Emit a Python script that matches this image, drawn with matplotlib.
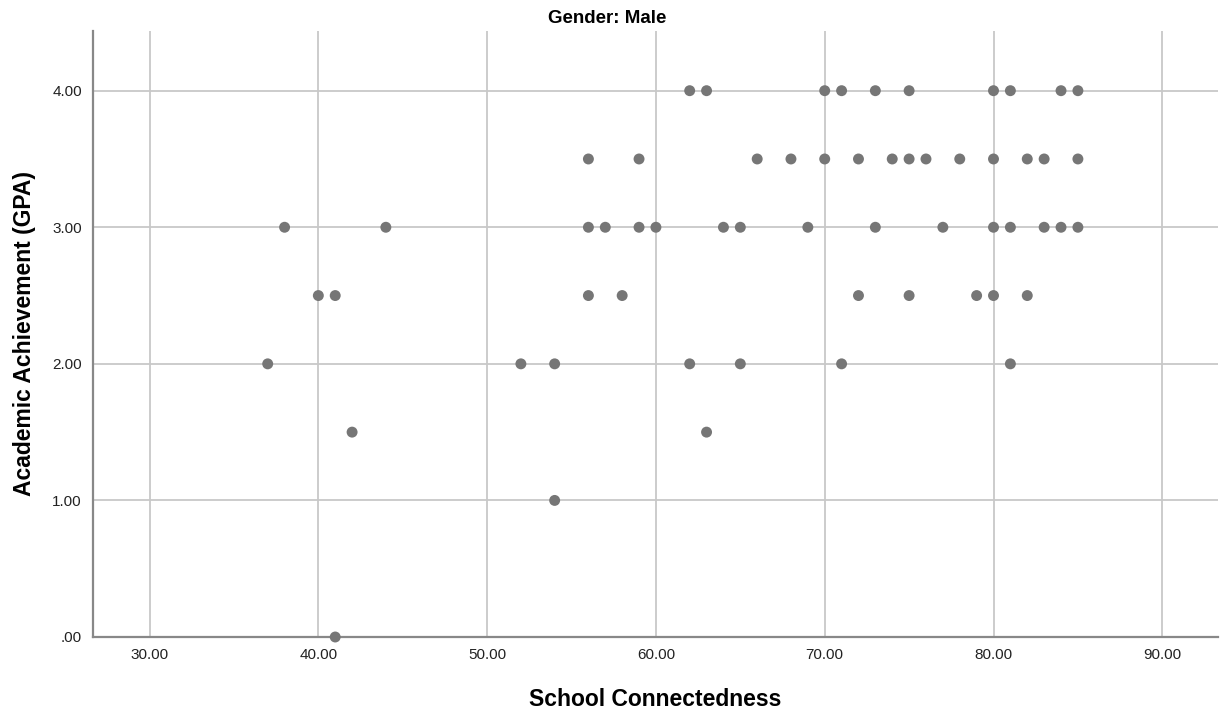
import matplotlib.pyplot as plt
from matplotlib.ticker import FuncFormatter

plt.rcParams['font.family'] = ['Liberation Sans', 'DejaVu Sans']

# school connectedness (x) and GPA (y) for each respondent, grouped by GPA row
gpa_400 = [62, 63, 70, 71, 73, 75, 80, 81, 84, 85]
gpa_350 = [56, 59, 66, 68, 70, 72, 74, 75, 76, 78, 80, 82, 83, 85]
gpa_300 = [38, 44, 56, 57, 59, 60, 64, 65, 69, 73, 77, 80, 81, 83, 84, 85]
gpa_250 = [40, 41, 56, 58, 72, 75, 79, 80, 82]
gpa_200 = [37, 52, 54, 62, 65, 71, 81]
gpa_150 = [42, 63]
gpa_100 = [54]
gpa_000 = [41]

rows = [(4.0, gpa_400), (3.5, gpa_350), (3.0, gpa_300), (2.5, gpa_250),
        (2.0, gpa_200), (1.5, gpa_150), (1.0, gpa_100), (0.0, gpa_000)]

x_ticks = [30, 40, 50, 60, 70, 80, 90]
y_ticks = [0, 1, 2, 3, 4]

x = []
y = []
for g, vals in rows:
    for v in vals:
        x.append(v)
        y.append(g)


def spss_fmt(v, pos):
    s = "%.2f" % v
    if s.startswith("0."):
        s = s[1:]
    return s


fig = plt.figure(figsize=(12.21, 7.13), dpi=100)
ax = fig.add_axes([93 / 1221, 76 / 713, 1125 / 1221, 606 / 713])

ax.scatter(x, y, s=62, color='#767676', edgecolors='none', zorder=3, clip_on=False)

ax.set_xlim(26.65, 93.3)
ax.set_ylim(0, 4.437)
ax.set_xticks(x_ticks)
ax.set_yticks(y_ticks)
ax.xaxis.set_major_formatter(FuncFormatter(spss_fmt))
ax.yaxis.set_major_formatter(FuncFormatter(spss_fmt))
ax.tick_params(length=0, labelsize=11, colors='#222222', pad=8)

ax.grid(True, color='#c8c8c8', linewidth=1.3, zorder=0)
ax.set_axisbelow(True)
for side in ['top', 'right']:
    ax.spines[side].set_visible(False)
for side in ['left', 'bottom']:
    ax.spines[side].set_color('#888888')
    ax.spines[side].set_linewidth(1.6)

ax.set_xlabel("School Connectedness", fontsize=16.5, fontweight='bold', labelpad=19)
ax.set_ylabel("Academic Achievement (GPA)", fontsize=16.5, fontweight='bold', labelpad=11.5)
fig.text(607 / 1221, 1 - 23 / 713, "Gender: Male", ha='center', va='baseline',
         fontsize=13.5, fontweight='bold')

fig.savefig("out.png", dpi=100)
